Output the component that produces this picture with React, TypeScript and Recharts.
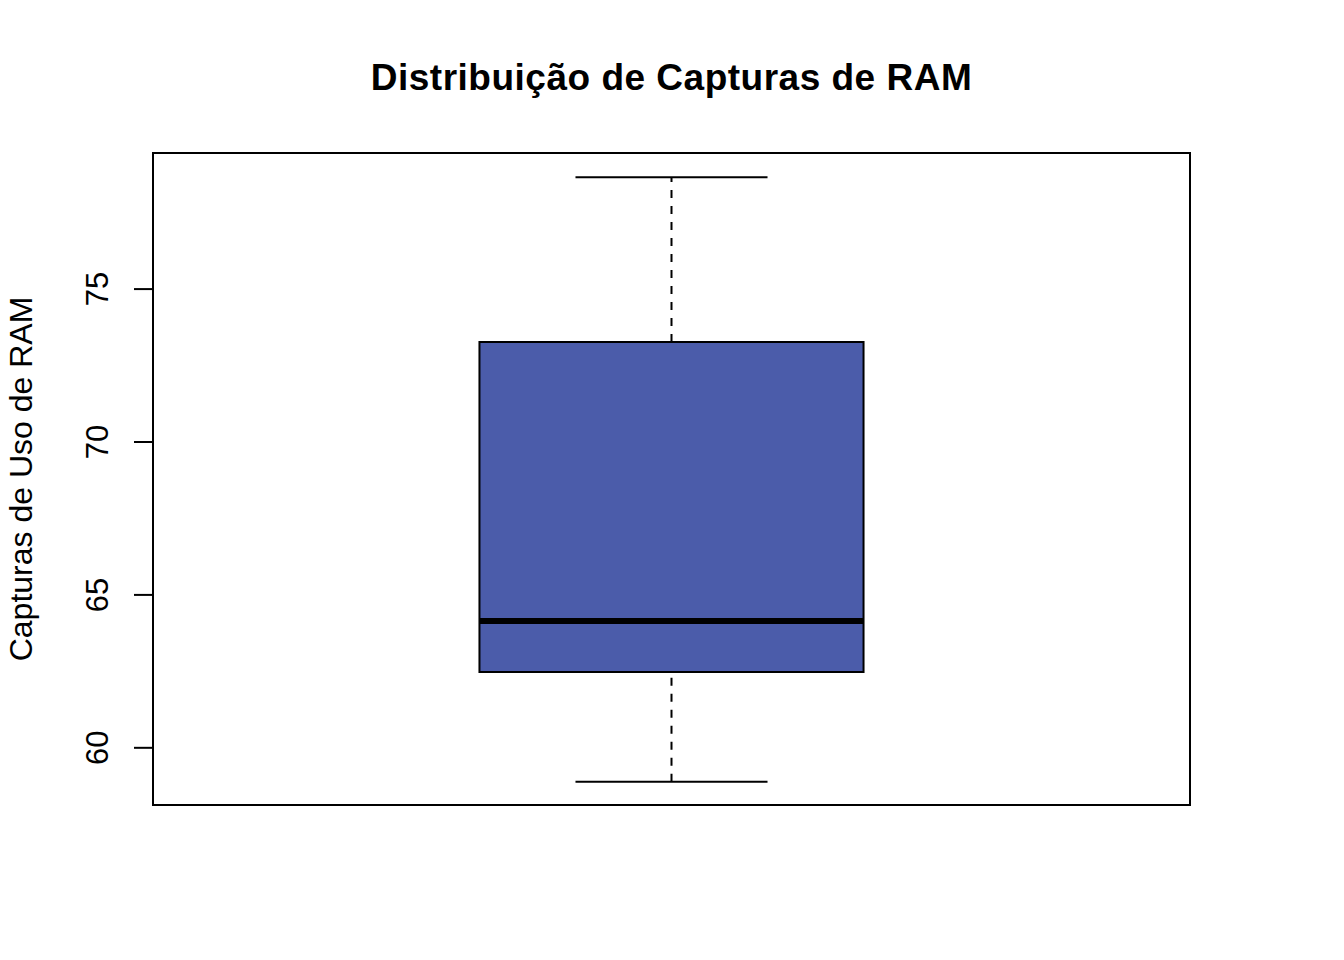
import { ComposedChart, XAxis, YAxis, ReferenceArea, ReferenceLine } from 'recharts';

// boxplot stats
const groups = ['RAM'];
const positions = [1];
const whiskerLow = [58.89];
const q1 = [62.48];
const median = [64.15];
const q3 = [73.27];
const whiskerHigh = [78.66];
const yTicks = [60, 65, 70, 75];

const xDomain: [number, number] = [0.46, 1.54];
const yDomain: [number, number] = [58.13, 79.45];
const boxHalf = 0.2;
const capHalf = 0.1;

const FONT = '"Liberation Sans", Arial, Helvetica, sans-serif';
const BOX_FILL = '#4B5CAA';

const YTick = (props: any) => {
  const { y, payload } = props;
  return (
    <text
      x={108}
      y={y}
      transform={`rotate(-90, 108, ${y})`}
      textAnchor="middle"
      fontFamily={FONT}
      fontSize={31}
      fill="#000"
    >
      {payload.value}
    </text>
  );
};

const YLabel = (props: any) => {
  const vb = props.viewBox || {};
  const cy = (vb.y ?? 153) + (vb.height ?? 652) / 2;
  return (
    <text
      x={32}
      y={cy}
      transform={`rotate(-90, 32, ${cy})`}
      textAnchor="middle"
      fontFamily={FONT}
      fontSize={32}
      fill="#000"
    >
      Capturas de Uso de RAM
    </text>
  );
};

export default function App() {
  return (
    <div style={{ position: 'absolute', left: 0, top: 0, width: 1344, height: 960, background: '#fff' }}>
      <div
        style={{
          position: 'absolute',
          left: 153,
          width: 1037,
          top: 56,
          textAlign: 'center',
          fontFamily: FONT,
          fontWeight: 'bold',
          fontSize: 37,
          letterSpacing: 0.5,
          lineHeight: '44px',
          color: '#000',
        }}
      >
        Distribuição de Capturas de RAM
      </div>
      <ComposedChart width={1344} height={960} margin={{ top: 153, right: 154, bottom: 155, left: 0 }}>
        <XAxis type="number" dataKey="x" domain={xDomain} hide allowDataOverflow />
        <YAxis
          type="number"
          domain={yDomain}
          ticks={yTicks}
          width={153}
          allowDataOverflow
          tick={<YTick />}
          tickSize={19}
          tickLine={{ stroke: '#000', strokeWidth: 2 }}
          axisLine={{ stroke: '#000', strokeWidth: 2 }}
          label={<YLabel />}
        />

        {/* plot frame */}
        <ReferenceArea
          x1={xDomain[0]}
          x2={xDomain[1]}
          y1={yDomain[0]}
          y2={yDomain[1]}
          fill="none"
          fillOpacity={0}
          stroke="#000"
          strokeWidth={2}
          ifOverflow="visible"
        />

        {groups.map((g, i) => {
          const p = positions[i];
          return [
            <ReferenceLine
              key={`${g}-wl`}
              segment={[{ x: p, y: whiskerLow[i] }, { x: p, y: q1[i] }]}
              stroke="#000"
              strokeWidth={2}
              strokeDasharray="8 8"
            />,
            <ReferenceLine
              key={`${g}-wh`}
              segment={[{ x: p, y: q3[i] }, { x: p, y: whiskerHigh[i] }]}
              stroke="#000"
              strokeWidth={2}
              strokeDasharray="8 8"
            />,
            <ReferenceLine
              key={`${g}-cl`}
              segment={[{ x: p - capHalf, y: whiskerLow[i] }, { x: p + capHalf, y: whiskerLow[i] }]}
              stroke="#000"
              strokeWidth={2}
            />,
            <ReferenceLine
              key={`${g}-ch`}
              segment={[{ x: p - capHalf, y: whiskerHigh[i] }, { x: p + capHalf, y: whiskerHigh[i] }]}
              stroke="#000"
              strokeWidth={2}
            />,
            <ReferenceArea
              key={`${g}-box`}
              x1={p - boxHalf}
              x2={p + boxHalf}
              y1={q1[i]}
              y2={q3[i]}
              fill={BOX_FILL}
              fillOpacity={1}
              stroke="#000"
              strokeWidth={2}
            />,
            <ReferenceLine
              key={`${g}-med`}
              segment={[{ x: p - boxHalf, y: median[i] }, { x: p + boxHalf, y: median[i] }]}
              stroke="#000"
              strokeWidth={6}
            />,
          ];
        })}
      </ComposedChart>
    </div>
  );
}
